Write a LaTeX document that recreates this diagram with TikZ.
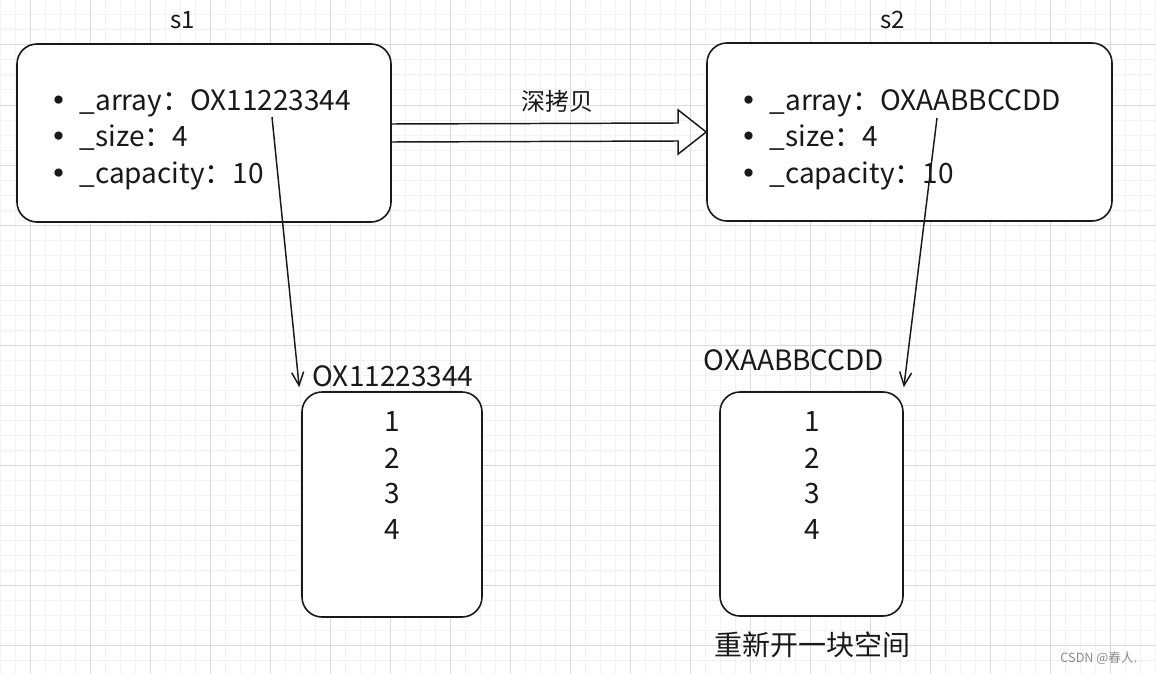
\documentclass[tikz,border=0pt]{standalone}
\usepackage{fontspec}
\setmainfont{Noto Sans CJK SC}
\newfontfamily\dotfont{DejaVu Sans}
\usepackage{tikz}
\usetikzlibrary{arrows.meta, fit, calc}
\definecolor{GridMinor}{RGB}{242,242,242}
\definecolor{GridMajor}{RGB}{218,218,218}
\definecolor{InkBlack}{RGB}{25,25,25}
\definecolor{MarkGray}{RGB}{140,140,140}
\newcommand{\itemdot}{\makebox[22pt][l]{\dotfont •}}

\begin{document}
\begin{tikzpicture}[x=0.75pt, y=-0.75pt,
    sbox/.style={draw=InkBlack, line width=1.2pt, rounded corners=15pt,
                 inner sep=0pt, fill=white},
    hand/.style={font=\fontsize{21}{25}\selectfont, text=InkBlack, inner sep=0pt},
    item/.style={hand, anchor=base west},
    ptr/.style={draw=InkBlack, line width=1.1pt,
                -{Straight Barb[length=10pt, width=9pt, line width=1.1pt]}},
    copyarr/.style={draw=InkBlack, line width=1.1pt, line join=miter}
  ]
  \useasboundingbox (0,0) rectangle (1156,674);
  \fill[white] (0,0) rectangle (1156,674);

  % grid
  \foreach \x in {0,15,...,1155} \draw[GridMinor, line width=0.75pt] (\x,0) -- (\x,674);
  \foreach \y in {0,15,...,674}  \draw[GridMinor, line width=0.75pt] (0,\y) -- (1156,\y);
  \foreach \x in {30,90,...,1155} \draw[GridMajor, line width=0.75pt] (\x,0) -- (\x,674);
  \foreach \y in {45,105,...,674} \draw[GridMajor, line width=0.75pt] (0,\y) -- (1156,\y);

  \node[sbox, fit={(17,44) (391,222)}]   (s1)   {};
  \node[sbox, fit={(707,43) (1112,221)}] (s2)   {};
  \node[sbox, fit={(302,392) (482,617)}] (mem1) {};
  \node[sbox, fit={(720,392) (903,616)}] (mem2) {};

  \node[hand, font=\fontsize{18}{22}\selectfont] (s1lbl) at (183,20) {s1};
  \node[hand, font=\fontsize{18}{22}\selectfont] (s2lbl) at (893,20) {s2};

  \node[item] (s1arr) at (50,110) {\itemdot\_array：OX11223344};
  \node[item] (s1siz) at (50,146) {\itemdot\_size：4};
  \node[item] (s1cap) at (50,183) {\itemdot\_capacity：10};

  \node[item] (s2arr) at (740,110) {\itemdot\_array：OXAABBCCDD};
  \node[item] (s2siz) at (740,146) {\itemdot\_size：4};
  \node[item] (s2cap) at (740,183) {\itemdot\_capacity：10};

  % deep copy arrow
  \draw[copyarr] ($(s1.east)+(0,-9)$) -- ($(s2.west)+(-28,-9)$)
    -- ($(s2.west)+(-28,-22)$) -- (s2.west) -- ($(s2.west)+(-28,22)$)
    -- ($(s2.west)+(-28,9)$) -- ($(s1.east)+(0,9)$);
  \node[font=\fontsize{18}{22}\selectfont, text=InkBlack] (deep) at (557,101) {深拷贝};

  \node[hand] (addr1) at (393,376) {OX11223344};
  \node[hand] (addr2) at (794,360) {OXAABBCCDD};

  \foreach \v in {1,...,4} {
    \node[hand] (m1c\v) at (392,386+36*\v) {\v};
    \node[hand] (m2c\v) at (812,386+36*\v) {\v};
  }

  \coordinate (ptr1) at (272,117);
  \coordinate (ptr2) at (937,118);
  \draw[ptr] (ptr1) -- ([shift={(-2,-4)}]mem1.north west);
  \draw[ptr] (ptr2) -- ([shift={(0,-4)}]mem2.north east);

  \node[hand] (newmem) at (812,645) {重新开一块空间};

  \node[font=\fontsize{9.5}{11}\selectfont, text=MarkGray, anchor=east] (mark)
    at (1142,658) {CSDN @春人.};
\end{tikzpicture}
\end{document}
